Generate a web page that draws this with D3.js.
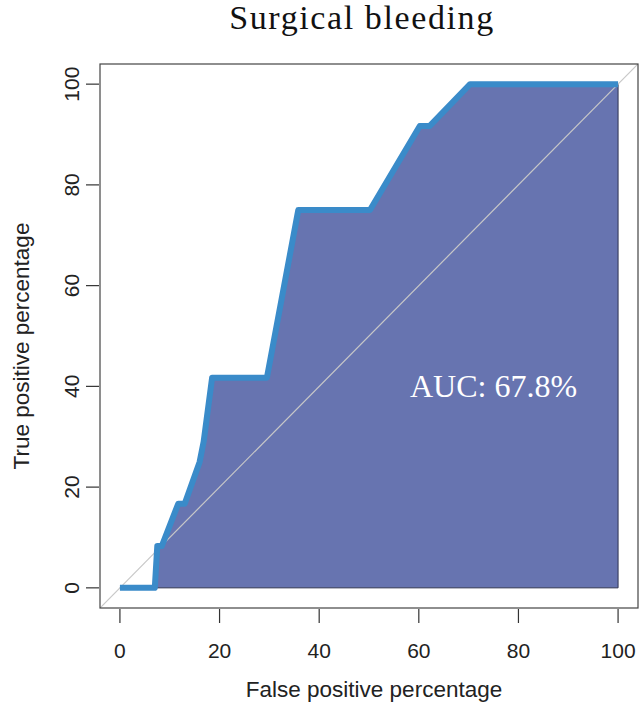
<!DOCTYPE html>
<html>
<head>
<meta charset="utf-8">
<script src="https://cdnjs.cloudflare.com/ajax/libs/d3/7.8.5/d3.min.js"></script>
<style>
  body { margin: 0; background: #fff; }
  svg { display: block; }
</style>
</head>
<body>
<svg width="641" height="703"></svg>
<script>
// ROC curve points (percent)
var fpr = [0, 7, 7.5, 8.4, 11.7, 13, 16, 16.8, 18.5, 29.5, 35.8, 50.2, 60.2, 62.2, 70.3, 100];
var tpr = [0, 0, 8.3, 8.3, 16.7, 16.7, 25, 29, 41.7, 41.7, 75, 75, 91.7, 91.7, 100, 100];
var ticks = [0, 20, 40, 60, 80, 100];
var aucLabel = "AUC: 67.8%";

var svg = d3.select("svg");

// R-style 4% padding around 0..100
var x = d3.scaleLinear().domain([-4, 104]).range([100, 638]);
var y = d3.scaleLinear().domain([-4, 104]).range([608, 64]);

var pts = fpr.map((f, i) => ({ f: f, t: tpr[i] }));

svg.append("defs").append("clipPath").attr("id", "plotclip")
    .append("rect")
    .attr("x", x(-4)).attr("y", y(104))
    .attr("width", x(104) - x(-4)).attr("height", y(-4) - y(104));

var plot = svg.append("g").attr("clip-path", "url(#plotclip)");

// auc polygon: curve then down to the axis
var poly = pts.concat([{ f: 100, t: 0 }]);
plot.append("path")
    .attr("d", d3.line().x(d => x(d.f)).y(d => y(d.t))(poly) + "Z")
    .attr("fill", "#6774b0")
    .attr("stroke", "#2f3350")
    .attr("stroke-width", 1);

// diagonal
plot.append("line")
    .attr("x1", x(-4)).attr("y1", y(-4))
    .attr("x2", x(104)).attr("y2", y(104))
    .attr("stroke", "#c8c8c8")
    .attr("stroke-width", 1.2);

// the roc curve
plot.append("path")
    .attr("d", d3.line().x(d => x(d.f)).y(d => y(d.t))(pts))
    .attr("fill", "none")
    .attr("stroke", "#3a8bc9")
    .attr("stroke-width", 6)
    .attr("stroke-linejoin", "round");

// box
svg.append("rect")
    .attr("x", x(-4)).attr("y", y(104))
    .attr("width", x(104) - x(-4)).attr("height", y(-4) - y(104))
    .attr("fill", "none")
    .attr("stroke", "#444")
    .attr("stroke-width", 1.2);

var sans = "'Liberation Sans', Arial, Helvetica, sans-serif";
var serif = "'Liberation Serif', 'Times New Roman', serif";

// x axis
var xa = svg.append("g").attr("font-family", sans)
    .attr("font-size", 21).attr("fill", "#222");
xa.selectAll("line").data(ticks).enter().append("line")
    .attr("x1", d => x(d)).attr("x2", d => x(d))
    .attr("y1", 609).attr("y2", 623)
    .attr("stroke", "#333").attr("stroke-width", 1.2);
xa.selectAll("text").data(ticks).enter().append("text")
    .attr("x", d => x(d)).attr("y", 658)
    .attr("text-anchor", "middle")
    .text(d => d);
xa.append("text")
    .attr("x", (x(-4) + x(104)) / 2 + 5).attr("y", 697)
    .attr("font-size", 22.5)
    .attr("text-anchor", "middle")
    .text("False positive percentage");

// y axis
var ya = svg.append("g").attr("font-family", sans)
    .attr("font-size", 21).attr("fill", "#222");
ya.selectAll("line").data(ticks).enter().append("line")
    .attr("x1", 86).attr("x2", 99)
    .attr("y1", d => y(d)).attr("y2", d => y(d))
    .attr("stroke", "#333").attr("stroke-width", 1.2);
ya.selectAll("text").data(ticks).enter().append("text")
    .attr("transform", d => "translate(79," + y(d) + ") rotate(-90)")
    .attr("text-anchor", "middle")
    .text(d => d);
ya.append("text")
    .attr("transform", "translate(29," + ((y(-4) + y(104)) / 2 + 10) + ") rotate(-90)")
    .attr("font-size", 22.5)
    .attr("text-anchor", "middle")
    .text("True positive percentage");

// title
svg.append("text")
    .attr("x", (x(-4) + x(104)) / 2 - 7).attr("y", 29)
    .attr("text-anchor", "middle")
    .attr("font-family", serif)
    .attr("font-size", 34)
    .attr("letter-spacing", 1.6)
    .attr("fill", "#111")
    .text("Surgical bleeding");

// auc text
svg.append("text")
    .attr("x", x(75)).attr("y", y(40) + 11)
    .attr("text-anchor", "middle")
    .attr("font-family", serif)
    .attr("font-size", 32)
    .attr("fill", "#fff")
    .text(aucLabel);
</script>
</body>
</html>
